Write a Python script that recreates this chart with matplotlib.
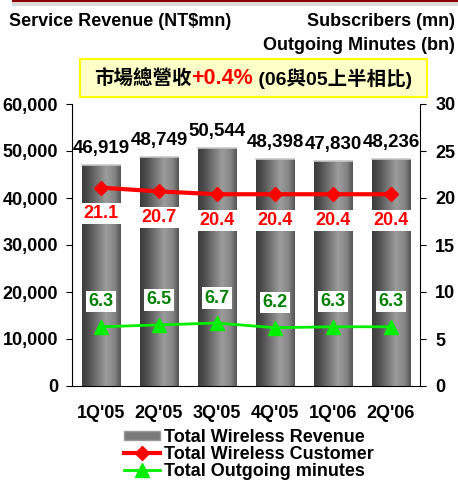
import numpy as np
import matplotlib
matplotlib.use("Agg")
import matplotlib.pyplot as plt
from matplotlib.colors import LinearSegmentedColormap
from matplotlib.patches import Rectangle, Patch
from matplotlib.lines import Line2D
from matplotlib.ticker import FuncFormatter

plt.rcParams['font.family'] = ['Liberation Sans', 'Noto Sans CJK TC', 'DejaVu Sans']
plt.rcParams['font.weight'] = 'bold'

quarters = ["1Q'05", "2Q'05", "3Q'05", "4Q'05", "1Q'06", "2Q'06"]
revenue = [46919, 48749, 50544, 48398, 47830, 48236]
customers = [21.1, 20.7, 20.4, 20.4, 20.4, 20.4]
minutes = [6.3, 6.5, 6.7, 6.2, 6.3, 6.3]

W, H = 458, 483
fig = plt.figure(figsize=(W / 100, H / 100), dpi=100)

def px(x, y):
    # pixel (from top-left) -> figure fraction
    return x / W, 1 - y / H

# top decoration bands
fig.patches.append(Rectangle(px(12, 2), (W - 12) / W, 2 / H, transform=fig.transFigure,
                             facecolor='#8b0000', edgecolor='none'))
fig.patches.append(Rectangle(px(12, 6), (W - 12) / W, 4 / H, transform=fig.transFigure,
                             facecolor='#d9d9d9', edgecolor='none'))

fig.text(*px(9, 21), "Service Revenue (NT$mn)", fontsize=13, va='center', ha='left')
fig.text(*px(455, 21), "Subscribers (mn)", fontsize=13, va='center', ha='right')
fig.text(*px(455, 45), "Outgoing Minutes (bn)", fontsize=13, va='center', ha='right')

# yellow banner
fig.patches.append(Rectangle(px(80, 97), (427 - 80) / W, 38 / H, transform=fig.transFigure,
                             facecolor='#ffffc8', edgecolor='#ffff00', linewidth=1.5))
pieces = [("市場總營收", 'black', 14), ("+0.4%", 'red', 15.5), (" (06與05上半相比)", 'black', 14)]
txts = [fig.text(0, px(0, 79)[1], s, color=c, fontsize=fs, va='center', ha='left')
        for s, c, fs in pieces]

ax = fig.add_axes([72 / W, 1 - 386 / H, (420 - 72) / W, (386 - 104) / H])
x = np.arange(len(quarters))
bars = ax.bar(x, revenue, width=0.67, color='none', zorder=2)

cyl = LinearSegmentedColormap.from_list('cyl', [(0, '#3c3c3c'), (0.15, '#4c4c4c'),
                                                (0.62, '#9c9c9c'), (0.85, '#858585'),
                                                (1, '#555555')])
grad = np.linspace(0, 1, 64).reshape(1, -1)
for b in bars:
    im = ax.imshow(grad, cmap=cyl, aspect='auto', zorder=1,
                   extent=[b.get_x(), b.get_x() + b.get_width(), 0, b.get_height()])
    im.set_clip_path(b)
    ax.plot([b.get_x(), b.get_x() + b.get_width()], [b.get_height()] * 2,
            color='#c8c8c8', lw=1.2, zorder=2)
for xi, v in zip(x, revenue):
    ax.annotate(f"{v:,}", (xi, v), xytext=(0, 8), textcoords='offset pixels',
                ha='center', va='bottom', fontsize=13.5)

ax.set_xlim(-0.5, 5.5)
ax.set_ylim(0, 60000)
ax.set_yticks(range(0, 60001, 10000))
ax.yaxis.set_major_formatter(FuncFormatter(lambda v, p: f"{int(v):,}"))
ax.set_xticks(x)
ax.set_xticklabels(quarters)
ax.tick_params(axis='x', length=0, pad=14, labelsize=13)
ax.tick_params(axis='y', direction='out', length=4, pad=6, labelsize=13)
ax.spines['top'].set_visible(False)
ax.spines['right'].set_visible(False)

ax2 = ax.twinx()
ax2.set_ylim(0, 30)
ax2.set_yticks(range(0, 31, 5))
ax2.tick_params(axis='y', direction='out', length=4, pad=7, labelsize=13)
for s in ['top', 'left', 'bottom']:
    ax2.spines[s].set_visible(False)

ax2.plot(x, customers, color='#ff0000', lw=3, marker='D', markersize=7.5, zorder=3)
ax2.plot(x, minutes, color='#00ee00', lw=2, marker='^', markersize=10, zorder=3)
for xi, v in zip(x, customers):
    ax2.annotate(f"{v}", (xi, v), xytext=(0, -26), textcoords='offset pixels',
                 ha='center', va='center', fontsize=13, color='#ff0000',
                 bbox=dict(facecolor='white', edgecolor='none', pad=1.5))
for xi, v in zip(x, minutes):
    ax2.annotate(f"{v}", (xi, v), xytext=(0, 25), textcoords='offset pixels',
                 ha='center', va='center', fontsize=13, color='#008000',
                 bbox=dict(facecolor='white', edgecolor='none', pad=1.5))

handles = [Patch(facecolor='#7a7a7a', edgecolor='#9a9a9a'),
           Line2D([], [], color='#ff0000', lw=3, marker='D', markersize=7.5),
           Line2D([], [], color='#00ee00', lw=2, marker='^', markersize=10)]
labels = ["Total Wireless Revenue", "Total Wireless Customer", "Total Outgoing minutes"]
fig.legend(handles, labels, loc='upper left', bbox_to_anchor=px(124, 429),
           frameon=False, fontsize=13, handlelength=2.0, handletextpad=0.2,
           labelspacing=0.0, borderpad=0, borderaxespad=0, handleheight=0.45)

# center the banner pieces
fig.canvas.draw()
r = fig.canvas.get_renderer()
widths = [t.get_window_extent(r).width for t in txts]
start = 253 - sum(widths) / 2
for t, w in zip(txts, widths):
    t.set_x(start / W)
    start += w

fig.savefig("out.png", dpi=100)
